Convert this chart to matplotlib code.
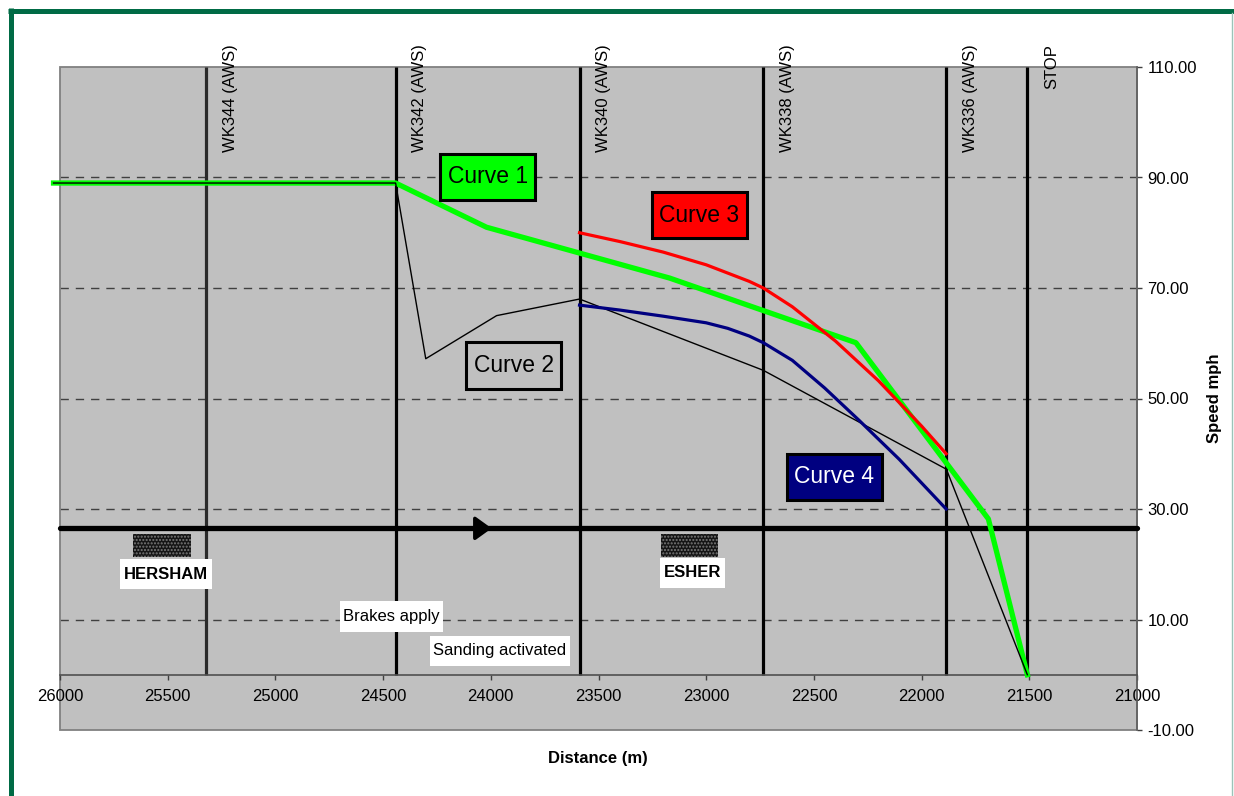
import matplotlib
matplotlib.use('Agg')
import matplotlib.pyplot as plt
from matplotlib.patches import Rectangle, FancyArrowPatch
from matplotlib.lines import Line2D
from matplotlib.path import Path

plt.rcParams['font.family'] = ['Liberation Sans', 'DejaVu Sans']
plt.rcParams['hatch.linewidth'] = 1.0

# ---------------- data ----------------
distance_ticks = [26000, 25500, 25000, 24500, 24000, 23500, 23000, 22500, 22000, 21500, 21000]
speed_ticks = [-10, 10, 30, 50, 70, 90, 110]
grid_levels = [10, 30, 50, 70, 90]

marker_names = ['WK344 (AWS)', 'WK342 (AWS)', 'WK340 (AWS)', 'WK338 (AWS)', 'WK336 (AWS)', 'STOP']
marker_x = [25323, 24442, 23588, 22735, 21885, 21509]

curve1_x = [26030, 24442, 24020, 23170, 22305, 21690, 21509]
curve1_y = [89.0, 89.0, 81.0, 71.8, 60.1, 28.2, 0.0]

curve2_x = [26030, 24442, 24302, 23973, 23588, 22735, 21885, 21509]
curve2_y = [89.0, 89.0, 57.2, 65.0, 68.0, 55.1, 37.2, 0.0]

curve3_x = [23588, 23400, 23200, 23000, 22800, 22735, 22600, 22400, 22200, 22000, 21886]
curve3_y = [80.0, 78.4, 76.5, 74.2, 71.2, 70.0, 66.6, 60.4, 53.2, 45.0, 40.0]

curve4_x = [23588, 23400, 23200, 23000, 22900, 22800, 22735, 22600, 22450, 22289, 22104, 21886]
curve4_y = [66.9, 66.0, 64.9, 63.7, 62.7, 61.3, 60.1, 56.9, 51.9, 46.0, 39.0, 30.0]

curve_labels = ['Curve 1', 'Curve 2', 'Curve 3', 'Curve 4']
curve_label_x = [24015, 23894, 23032, 22405]
curve_label_y = [90.1, 55.9, 83.2, 35.8]

track_y = 26.5
arrow_from = 24350
arrow_to = 23996

station_names = ['HERSHAM', 'ESHER']
station_start = [25661, 23212]
station_end = [25392, 22943]
station_top = 25.5
station_bottom = 21.35
station_label_x = [25508, 23062]
station_label_y = [18.2, 18.5]

note_texts = ['Brakes apply', 'Sanding activated']
note_x = [24460, 23957]
note_y = [10.6, 4.3]


def hv_box(padx, pady):
    """Square box style with separate horizontal and vertical padding."""
    def style(x0, y0, width, height, mutation_size):
        px = padx * mutation_size
        py = pady * mutation_size
        xa, ya = x0 - px, y0 - py
        xb, yb = x0 + width + px, y0 + height + py
        return Path([(xa, ya), (xb, ya), (xb, yb), (xa, yb), (xa, ya)],
                    [Path.MOVETO, Path.LINETO, Path.LINETO, Path.LINETO, Path.CLOSEPOLY])
    return style


# ---------------- figure ----------------
W, H = 1234, 796
fig = plt.figure(figsize=(W / 100, H / 100), dpi=100)
fig.patch.set_facecolor('white')

ax = fig.add_axes([60 / W, 66 / H, 1077 / W, 663 / H])
ax.set_xlim(26000, 21000)
ax.set_ylim(-10, 110)
ax.set_facecolor('#C0C0C0')

# spines
ax.spines['left'].set_visible(False)
ax.spines['top'].set_visible(False)
ax.spines['right'].set_color('#606060')
ax.spines['right'].set_linewidth(1.2)
ax.spines['bottom'].set_position(('data', 0))
ax.spines['bottom'].set_color('#505050')
ax.spines['bottom'].set_linewidth(1.2)
ax.add_patch(Rectangle((0, 0), 1, 1, transform=ax.transAxes, fill=False,
                       edgecolor='#808080', lw=1.3, zorder=1.5, clip_on=False))

ax.yaxis.tick_right()
ax.set_yticks(speed_ticks)
ax.set_yticklabels(['%.2f' % v for v in speed_ticks])
ax.set_xticks(distance_ticks)
ax.set_xticklabels([str(v) for v in distance_ticks])
ax.tick_params(axis='x', direction='out', length=3.5, width=1, color='#404040',
               pad=7, labelsize=12, labelcolor='black')
ax.tick_params(axis='y', direction='out', length=3.5, width=1, color='#404040',
               pad=4, labelsize=12, labelcolor='black')

# dashed gridlines
for g in grid_levels:
    ax.axhline(g, color='#404040', lw=1.0, dashes=(6, 5), zorder=1)

# vertical marker lines
for i, (name, xv) in enumerate(zip(marker_names, marker_x)):
    ax.plot([xv, xv], [0, 110], color='#2a2a2a' if i == 0 else 'black',
            lw=2.3, zorder=2, solid_capstyle='butt')
    ax.annotate(name, xy=(xv, 1), xycoords=('data', 'axes fraction'),
                xytext=(17.5, 16.5), textcoords='offset points',
                rotation=90, ha='center', va='top', fontsize=12,
                annotation_clip=False)

# track line and direction arrow
ax.plot([26000, 21000], [track_y, track_y], color='black', lw=3.8,
        solid_capstyle='round', zorder=3, clip_on=False)
ax.add_patch(FancyArrowPatch((arrow_from, track_y), (arrow_to, track_y),
                             arrowstyle='-|>,head_length=0.5,head_width=0.36',
                             mutation_scale=20, color='black', lw=2.5, zorder=3.5,
                             shrinkA=0, shrinkB=0))

# stations
for s0, s1 in zip(station_start, station_end):
    ax.add_patch(Rectangle((s0, station_bottom), s1 - s0, station_top - station_bottom,
                           facecolor='#151515', edgecolor='#7a7a7a', hatch='.....',
                           lw=0, zorder=3))
for name, lx, ly in zip(station_names, station_label_x, station_label_y):
    ax.text(lx, ly, name, fontsize=12, fontweight='bold', ha='center', va='center',
            zorder=6, bbox=dict(boxstyle=hv_box(0.22, 0.45), fc='white', ec='none'))

for t, nx, ny in zip(note_texts, note_x, note_y):
    ax.text(nx, ny, t, fontsize=12, ha='center', va='center', zorder=6,
            bbox=dict(boxstyle=hv_box(0.2, 0.47), fc='white', ec='none'))

# curves
ax.plot(curve1_x, curve1_y, color='#00FF00', lw=3.8, zorder=4,
        solid_joinstyle='round', clip_on=False)
ax.plot(curve2_x, curve2_y, color='black', lw=1.0, zorder=4.5, clip_on=False)
ax.plot(curve3_x, curve3_y, color='#FF0000', lw=2.3, zorder=4.8, solid_joinstyle='round')
ax.plot(curve4_x, curve4_y, color='#000080', lw=2.3, zorder=4.6, solid_joinstyle='round')

# curve labels
label_face = ['#00FF00', '#C0C0C0', '#FF0000', '#000080']
label_text_color = ['black', 'black', 'black', 'white']
for t, lx, ly, fc, tc in zip(curve_labels, curve_label_x, curve_label_y, label_face, label_text_color):
    ax.text(lx, ly, t, fontsize=16.5, color=tc, ha='center', va='center', zorder=7,
            bbox=dict(boxstyle=hv_box(0.32, 0.52), fc=fc, ec='black', lw=2.2))

# axis titles
fig.text(598 / W, 1 - 758 / H, 'Distance (m)', fontsize=12, fontweight='bold',
         ha='center', va='center')
fig.text(1215 / W, 1 - 398 / H, 'Speed mph', fontsize=12, fontweight='bold',
         rotation=90, ha='center', va='center')

# outer frame
frame_col = '#006B45'
fig.add_artist(Line2D([10.8 / W, 10.8 / W], [0, 1 - 8 / H], color=frame_col, lw=3.6,
                      transform=fig.transFigure, solid_capstyle='butt'))
fig.add_artist(Line2D([8.3 / W, 1], [1 - 10.8 / H, 1 - 10.8 / H], color=frame_col, lw=3.6,
                      transform=fig.transFigure, solid_capstyle='butt'))
fig.add_artist(Line2D([1232 / W, 1232 / W], [0, 1 - 13 / H], color='#9cc3b8', lw=1.0,
                      transform=fig.transFigure))

fig.savefig('out.png', dpi=100, facecolor='white')
